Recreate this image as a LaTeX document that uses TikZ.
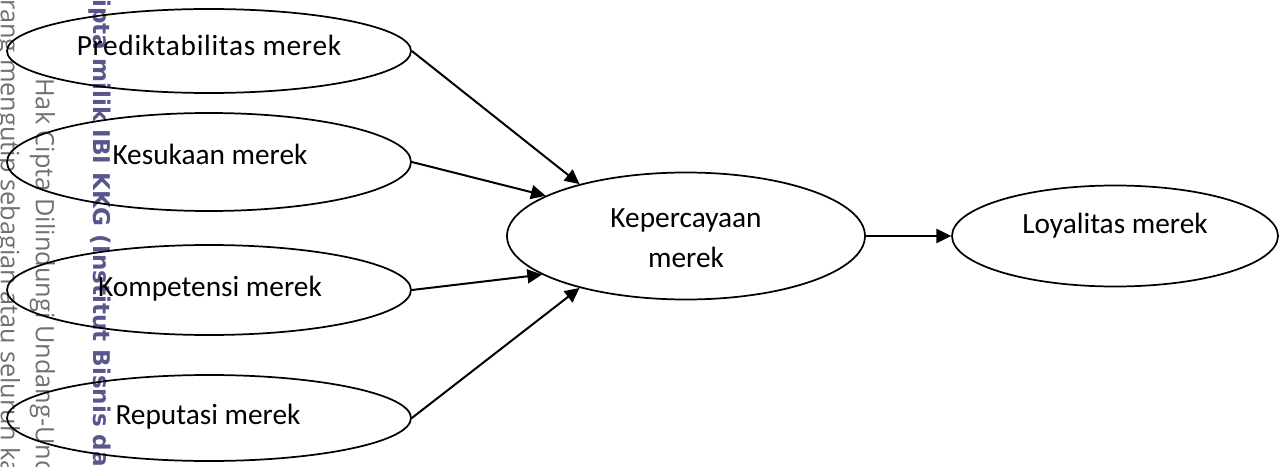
\documentclass[tikz,border=0pt]{standalone}
\usepackage{fontspec}
\setmainfont{Carlito}
\newfontfamily\wmfont{Open Sans}
\newfontfamily\wmboldfont{DejaVu Sans}
\newfontfamily\widefont[LetterSpace=2.3]{Carlito}
\usetikzlibrary{shapes.geometric,arrows.meta}
\definecolor{wmgray}{RGB}{112,112,112}
\definecolor{wmblue}{RGB}{88,86,140}
\begin{document}
\begin{tikzpicture}[x=0.75pt,y=-0.75pt,
  oval/.style={draw,ellipse,line width=1.3pt,inner sep=0pt},
  lbl/.style={font=\fontsize{22}{30}\selectfont,inner sep=0pt},
  link/.style={line width=1.5pt,-{Triangle[length=11pt,width=10.5pt]}},
  wmthin/.style={font=\wmfont\fontsize{19}{22}\selectfont,text=wmgray,rotate=-90,anchor=base west,inner sep=0pt},
  wmbold/.style={font=\wmboldfont\bfseries\fontsize{17.3}{20}\selectfont,text=wmblue,rotate=-90,anchor=base west,inner sep=0pt}]
\useasboundingbox (0,0) rectangle (1285,467);
\begin{scope}
\clip (0,0) rectangle (1285,467);
\node[wmthin] (w1) at (1,-1) {rang mengutip sebagian atau seluruh ka};
\node[wmthin] (w2) at (36,78) {Hak Cipta Dilindungi Undang-Und};
\node[wmbold] (w3) at (93,-1) {ipta milik IBI KKG (Institut Bisnis da};
\end{scope}
% ellipses
\node[oval,minimum width=303pt,minimum height=63pt] (e1) at (209,51) {};
\node[oval,minimum width=303pt,minimum height=73.5pt] (e2) at (209,162) {};
\node[oval,minimum width=303pt,minimum height=67.5pt] (e3) at (209,290) {};
\node[oval,minimum width=303pt,minimum height=64.5pt] (e4) at (209,418) {};
\node[oval,minimum width=268.5pt,minimum height=95.25pt] (k) at (686,236) {};
\node[oval,minimum width=244.5pt,minimum height=75.75pt] (l) at (1115,236) {};
% labels
\node[lbl,anchor=base,font=\widefont\fontsize{22}{30}\selectfont] (t1) at (209,56) {Prediktabilitas merek};
\node[lbl,anchor=base] (t2) at (210,164) {Kesukaan merek};
\node[lbl,anchor=base] (t3) at (210,296) {Kompetensi merek};
\node[lbl,anchor=base] (t4) at (208,424) {Reputasi merek};
\node[lbl,align=center] (t5) at (686,238) {Kepercayaan\\merek};
\node[lbl,anchor=base] (t6) at (1115,233) {Loyalitas merek};
% connectors
\draw[link] (e1.east) -- (k.154);
\draw[link] (e2.east) -- (k.164);
\draw[link] (e3.east) -- (k.195);
\draw[link] (e4.east) -- (k.206);
\draw[link] (k.east) -- (l.west);
\end{tikzpicture}
\end{document}
